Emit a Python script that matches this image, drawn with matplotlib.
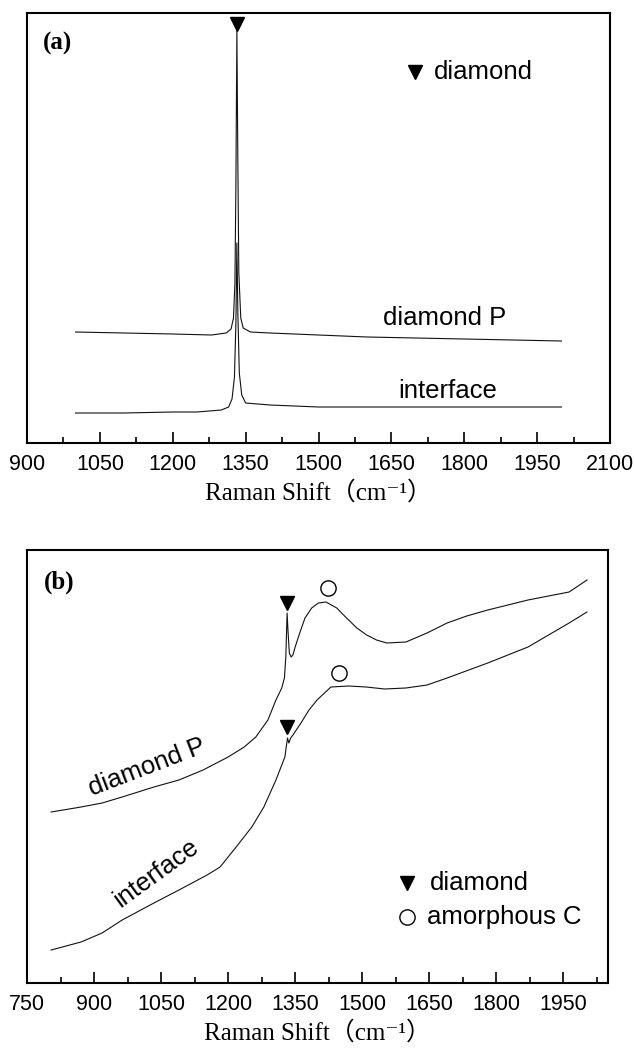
import matplotlib
matplotlib.use("Agg")
import matplotlib.pyplot as plt
from matplotlib.ticker import MultipleLocator

# ---------------- data (arbitrary intensity units) ----------------
# panel (a)
a_dp_x = [1000, 1100, 1200, 1280, 1310, 1320, 1325, 1328, 1330, 1332, 1334, 1336, 1340, 1345,
          1360, 1400, 1500, 1600, 1700, 1800, 1900, 2000]
a_dp_y = [111, 110, 109, 108, 110, 114, 125, 160, 260, 413, 280, 170, 125, 115,
          111, 110, 108, 106, 105, 104, 103, 102]
a_if_x = [1000, 1100, 1200, 1250, 1300, 1315, 1322, 1327, 1330, 1332, 1334, 1337, 1342, 1350,
          1400, 1450, 1500, 1600, 1700, 1800, 1900, 2000]
a_if_y = [30, 30, 31, 31, 33, 36, 44, 66, 120, 200, 130, 70, 48, 40,
          38, 37, 36, 36, 36, 36, 36, 36]

# panel (b)
b_dp_x = [804, 871, 918, 963, 1034, 1090, 1144, 1200, 1236, 1262, 1289, 1307, 1320, 1326,
          1329, 1332, 1334, 1337, 1341, 1345, 1350, 1361, 1372, 1387, 1402, 1419, 1443, 1465,
          1488, 1510, 1532, 1555, 1598, 1645, 1690, 1734, 1781, 1871, 1963, 2003]
b_dp_y = [171, 176, 180, 186, 196, 203, 213, 226, 236, 246, 263, 283, 295, 305,
          325, 370, 352, 330, 326, 328, 336, 351, 365, 375, 380, 381, 375, 365,
          355, 348, 343, 340, 341, 350, 360, 367, 373, 383, 391, 403]
b_if_x = [804, 871, 918, 963, 1034, 1090, 1153, 1182, 1218, 1253, 1280, 1307, 1327, 1330,
          1333, 1336, 1340, 1345, 1363, 1381, 1399, 1430, 1470, 1509, 1550, 1598, 1645, 1690,
          1781, 1871, 1963, 2003]
b_if_y = [33, 41, 50, 63, 80, 93, 108, 116, 136, 156, 176, 203, 226, 236,
          245, 240, 245, 248, 260, 273, 283, 296, 297, 296, 294, 295, 298, 305,
          320, 336, 360, 371]

a_ticks = [900, 1050, 1200, 1350, 1500, 1650, 1800, 1950, 2100]
b_ticks = [750, 900, 1050, 1200, 1350, 1500, 1650, 1800, 1950]
xlabel_text = "Raman Shift（cm⁻¹）"

# ---------------- figure ----------------
W, H = 634, 1049
fig = plt.figure(figsize=(W / 100, H / 100), dpi=100)

sans = ["Liberation Sans", "DejaVu Sans"]
serif = ["Liberation Serif", "Noto Sans CJK SC", "DejaVu Serif"]
line_kw = dict(color="#111111", lw=0.8)
tri_kw = dict(marker="v", color="black", markersize=10, linestyle="none")
circ_kw = dict(marker="o", markerfacecolor="white", markeredgecolor="black",
               markeredgewidth=1.0, markersize=11, linestyle="none")


def style_axes(ax, ticks, xlim, ylim):
    ax.set_xlim(*xlim)
    ax.set_ylim(*ylim)
    ax.set_xticks(ticks)
    ax.set_xticklabels([str(t) for t in ticks], fontfamily=sans, fontsize=15.5)
    ax.xaxis.set_minor_locator(MultipleLocator(75))
    ax.set_yticks([])
    ax.tick_params(axis="x", which="major", direction="in", length=8, width=1.2,
                   pad=8, top=False)
    ax.tick_params(axis="x", which="minor", direction="in", length=4, width=1.2, top=False)
    for s in ax.spines.values():
        s.set_linewidth(1.5)
    ax.set_xlabel(xlabel_text, fontfamily=serif, fontsize=18, labelpad=4)


# panel (a)
ax1 = fig.add_axes([27 / W, 1 - 443 / H, (610 - 27) / W, (443 - 13) / H])
ax1.plot(a_dp_x, a_dp_y, **line_kw)
ax1.plot(a_if_x, a_if_y, **line_kw)
style_axes(ax1, a_ticks, (900, 2100), (0, 430))
ax1.plot([1332], [419], **tri_kw)
ax1.plot([1698], [371], **tri_kw)
ax1.text(1738, 371, "diamond", fontfamily=sans, fontsize=18.5, va="center", ha="left")
ax1.text(1760, 125, "diamond P", fontfamily=sans, fontsize=18.5, va="center", ha="center")
ax1.text(1765, 52, "interface", fontfamily=sans, fontsize=18.5, va="center", ha="center")
ax1.text(963, 400, "(a)", fontfamily=serif, fontweight="bold", fontsize=18,
         va="center", ha="center")

# panel (b)
ax2 = fig.add_axes([27 / W, 1 - 983 / H, (608 - 27) / W, (983 - 550) / H])
ax2.plot(b_dp_x, b_dp_y, **line_kw)
ax2.plot(b_if_x, b_if_y, **line_kw)
style_axes(ax2, b_ticks, (750, 2050), (0, 433))
ax2.plot([1332, 1332], [380, 256], **tri_kw)
ax2.plot([1423, 1448], [395, 310], **circ_kw)
ax2.plot([1600], [100], **tri_kw)
ax2.plot([1600], [66], **circ_kw)
ax2.text(1652, 100, "diamond", fontfamily=sans, fontsize=18.5, va="center", ha="left")
ax2.text(1645, 66, "amorphous C", fontfamily=sans, fontsize=18.5, va="center", ha="left")
ax2.text(1018, 216, "diamond P", fontfamily=sans, fontsize=18.5, va="center", ha="center",
         rotation=21, rotation_mode="anchor")
ax2.text(1040, 110, "interface", fontfamily=sans, fontsize=18.5, va="center", ha="center",
         rotation=36, rotation_mode="anchor")
ax2.text(823, 401, "(b)", fontfamily=serif, fontweight="bold", fontsize=18,
         va="center", ha="center")

fig.savefig("out.png", dpi=100, facecolor="white")
